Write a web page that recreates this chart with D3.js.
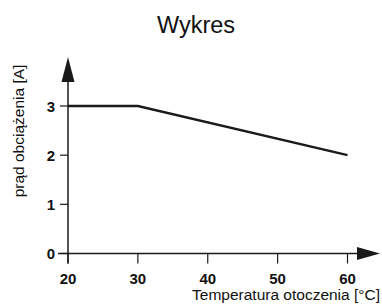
<!DOCTYPE html>
<html>
<head>
<meta charset="utf-8">
<script src="https://cdn.jsdelivr.net/npm/d3@7"></script>
<style>
body { margin: 0; background: #fff; }
text { font-family: "Liberation Sans", Arial, sans-serif; fill: #111; }
</style>
</head>
<body>
<svg id="chart" width="382" height="304"></svg>
<script>
// Values
var temps = [20, 30, 60];
var currents = [3, 3, 2];
var xTicks = [20, 30, 40, 50, 60];
var yTicks = [0, 1, 2, 3];

var svg = d3.select('#chart');
var x = d3.scaleLinear().domain([20, 60]).range([68, 347.5]);
var y = d3.scaleLinear().domain([0, 3]).range([253.5, 106]);
var ink = "#1a1a1a";

// Title
svg.append("text")
	.attr("x", 196)
	.attr("y", 33)
	.attr("text-anchor", "middle")
	.style("font-size", "23.5px")
	.text("Wykres");

// Axes lines
svg.append("line")
	.attr("x1", x(20)).attr("x2", x(20))
	.attr("y1", 80).attr("y2", y(0) + 10)
	.attr("stroke", ink).attr("stroke-width", 1.5);
svg.append("line")
	.attr("x1", x(20) - 10).attr("x2", 360)
	.attr("y1", y(0)).attr("y2", y(0))
	.attr("stroke", ink).attr("stroke-width", 1.5);

// Arrow heads
svg.append("path")
	.attr("d", "M" + (x(20) - 6.5) + ",82 L" + x(20) + ",57 L" + (x(20) + 6.5) + ",82 Z")
	.attr("fill", ink);
svg.append("path")
	.attr("d", "M357," + (y(0) - 6.5) + " L380," + y(0) + " L357," + (y(0) + 6.5) + " Z")
	.attr("fill", ink);

// X ticks
var xg = svg.append("g");
xg.selectAll("line")
	.data(xTicks)
	.enter()
	.append("line")
	.attr("x1", function(d) { return x(d); })
	.attr("x2", function(d) { return x(d); })
	.attr("y1", y(0))
	.attr("y2", y(0) + 10)
	.attr("stroke", ink).attr("stroke-width", 1.2);
xg.selectAll("text")
	.data(xTicks)
	.enter()
	.append("text")
	.attr("x", function(d) { return x(d); })
	.attr("y", 284)
	.attr("text-anchor", "middle")
	.style("font-size", "15px")
	.style("font-weight", "bold")
	.text(function(d) { return d; });

// Y ticks
var yg = svg.append("g");
yg.selectAll("line")
	.data(yTicks)
	.enter()
	.append("line")
	.attr("x1", x(20) - 8)
	.attr("x2", x(20))
	.attr("y1", function(d) { return y(d); })
	.attr("y2", function(d) { return y(d); })
	.attr("stroke", ink).attr("stroke-width", 1.2);
yg.selectAll("text")
	.data(yTicks)
	.enter()
	.append("text")
	.attr("x", 55)
	.attr("y", function(d) { return y(d) + 5.5; })
	.attr("text-anchor", "end")
	.style("font-size", "15px")
	.style("font-weight", "bold")
	.text(function(d) { return d; });

// Data line
var line = d3.line()
	.x(function(d, i) { return x(temps[i]); })
	.y(function(d) { return y(d); });
svg.append("path")
	.attr("d", line(currents))
	.attr("fill", "none")
	.attr("stroke", ink)
	.attr("stroke-width", 2.4);

// Axis titles
svg.append("text")
	.attr("x", 380)
	.attr("y", 300)
	.attr("text-anchor", "end")
	.style("font-size", "15.5px")
	.text("Temperatura otoczenia [°C]");
svg.append("text")
	.attr("transform", "translate(24, 131) rotate(-90)")
	.attr("text-anchor", "middle")
	.style("font-size", "15.5px")
	.text("prąd obciążenia [A]");
</script>
</body>
</html>
